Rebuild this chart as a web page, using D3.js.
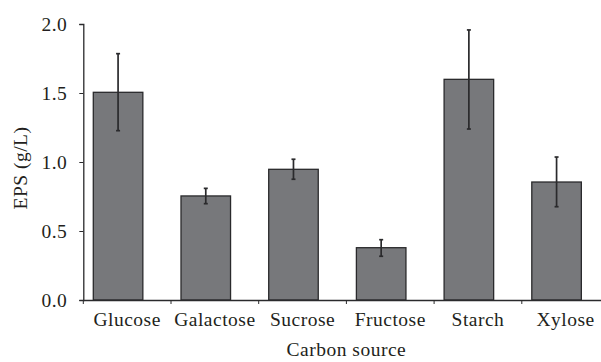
<!DOCTYPE html>
<html>
    <head>
        <script src="https://d3js.org/d3.v7.min.js"></script>
        <style>
            body {
                margin: 0;
                overflow: hidden;
                background: #fff;
            }
        </style>
    </head>

    <body>
        <script>
            const sources = ['Glucose', 'Galactose', 'Sucrose', 'Fructose', 'Starch', 'Xylose'];
            const eps = [1.505, 0.754, 0.947, 0.379, 1.599, 0.855];
            const errLow = [1.227, 0.698, 0.875, 0.317, 1.239, 0.676];
            const errHigh = [1.785, 0.809, 1.02, 0.437, 1.957, 1.036];
            const yTicks = [0, 0.5, 1.0, 1.5, 2.0];

            const width = 601;
            const height = 362;
            const font = "'Liberation Serif', 'DejaVu Serif', 'Times New Roman', serif";
            const ink = '#231f20';
            const svg = d3.select('body').append('svg').attr('width', width).attr('height', height);

            const x = d3.scaleBand().domain(sources).range([83.3, 609.5]);
            const y = d3.scaleLinear().domain([0, 2]).range([300, 24]);

            const rows = sources.map((s, i) => ({ name: s, v: eps[i], lo: errLow[i], hi: errHigh[i] }));

            // bars sit left of band centre, as in the original
            const bw = x.bandwidth();
            const barX = (d) => x(d.name) + bw * 0.114;
            const barW = bw * 0.565;

            svg.append('g')
                .selectAll('rect')
                .data(rows)
                .join('rect')
                .attr('x', barX)
                .attr('y', (d) => y(d.v))
                .attr('width', barW)
                .attr('height', (d) => y(0) - y(d.v))
                .attr('fill', '#77787b')
                .attr('stroke', '#2a2a2c')
                .attr('stroke-width', 1.3);

            const err = svg.append('g').attr('stroke', '#2a2a2c').attr('stroke-width', 1.7);
            rows.forEach((d) => {
                const cx = barX(d) + barW / 2;
                err.append('line').attr('x1', cx).attr('x2', cx).attr('y1', y(d.hi)).attr('y2', y(d.lo));
                err.append('line').attr('x1', cx - 2).attr('x2', cx + 2).attr('y1', y(d.hi)).attr('y2', y(d.hi));
                err.append('line').attr('x1', cx - 2).attr('x2', cx + 2).attr('y1', y(d.lo)).attr('y2', y(d.lo));
            });

            const yAxis = svg
                .append('g')
                .attr('transform', `translate(${x.range()[0]},0)`)
                .call(d3.axisLeft(y).tickValues(yTicks).tickFormat(d3.format('.1f')).tickSize(4).tickPadding(12));

            const xAxis = svg
                .append('g')
                .attr('transform', `translate(0,${y(0)})`)
                .call(d3.axisBottom(x).tickSize(0).tickPadding(12));

            // boundary ticks between categories
            xAxis
                .selectAll('.bound')
                .data(sources)
                .join('line')
                .attr('class', 'bound')
                .attr('x1', (d) => x(d))
                .attr('x2', (d) => x(d))
                .attr('y1', 0)
                .attr('y2', 4)
                .attr('stroke', '#2a2a2c');

            svg.selectAll('.domain').attr('stroke', '#2a2a2c').attr('stroke-width', 1.3);
            svg.selectAll('.tick line').attr('stroke', '#2a2a2c');
            svg.selectAll('.tick text')
                .attr('font-family', font)
                .attr('font-size', 19.5)
                .attr('letter-spacing', 0.5)
                .attr('fill', ink);

            svg.append('text')
                .attr('transform', `translate(27,${y(1) + 6}) rotate(-90)`)
                .attr('text-anchor', 'middle')
                .attr('font-family', font)
                .attr('font-size', 19.5)
                .attr('letter-spacing', 0.5)
                .attr('fill', ink)
                .text('EPS (g/L)');

            svg.append('text')
                .attr('x', (x.range()[0] + x.range()[1]) / 2)
                .attr('y', 356)
                .attr('text-anchor', 'middle')
                .attr('font-family', font)
                .attr('font-size', 19.5)
                .attr('letter-spacing', 0.5)
                .attr('fill', ink)
                .text('Carbon source');
        </script>
    </body>
</html>
